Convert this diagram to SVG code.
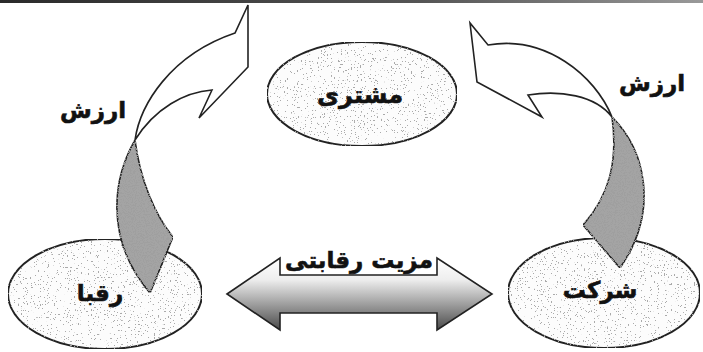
<svg xmlns="http://www.w3.org/2000/svg" width="703" height="352" viewBox="0 0 703 352">
<defs>
<linearGradient id="topbar" x1="0" y1="0" x2="1" y2="0">
<stop offset="0" stop-color="#2a2a2a"/><stop offset="0.6" stop-color="#555"/><stop offset="1" stop-color="#999"/>
</linearGradient>
<linearGradient id="dbl" gradientUnits="userSpaceOnUse" x1="0" y1="258" x2="0" y2="330">
<stop offset="0" stop-color="#ffffff"/><stop offset="0.3" stop-color="#eeeeee"/><stop offset="0.6" stop-color="#a8a8a8"/><stop offset="1" stop-color="#4a4a4a"/>
</linearGradient>
<filter id="speck" x="0" y="0" width="1" height="1">
<feTurbulence type="fractalNoise" baseFrequency="0.7" numOctaves="2" seed="5" result="n"/>
<feColorMatrix in="n" type="matrix" values="0 0 0 0 0.4  0 0 0 0 0.4  0 0 0 0 0.4  0 0 0 -40 13" result="d"/>
<feComposite in="d" in2="SourceGraphic" operator="in" result="dm"/>
<feMerge><feMergeNode in="SourceGraphic"/><feMergeNode in="dm"/></feMerge>
</filter>
<filter id="speck2" x="0" y="0" width="1" height="1">
<feTurbulence type="fractalNoise" baseFrequency="0.9" numOctaves="2" seed="8" result="n"/>
<feColorMatrix in="n" type="matrix" values="0 0 0 0 0.35  0 0 0 0 0.35  0 0 0 0 0.35  0 0 0 -12 6" result="d"/>
<feComposite in="d" in2="SourceGraphic" operator="in" result="dm"/>
<feMerge><feMergeNode in="SourceGraphic"/><feMergeNode in="dm"/></feMerge>
</filter>
</defs>
<style>
.node{fill:#fcfcfc;stroke:#222;stroke-width:2}
.lbl{font-family:"DejaVu Sans",sans-serif;font-weight:bold;fill:#111;stroke:#111;stroke-width:0.6;text-anchor:middle}
.light{fill:#fff;stroke:#222;stroke-width:1.6;stroke-linejoin:miter}
.dark{fill:#a4a4a4;stroke:#222;stroke-width:1.6}
</style>
<rect x="0" y="0" width="703" height="3" fill="url(#topbar)"/>
<g id="customer">
<ellipse class="node" cx="362" cy="94" rx="95" ry="52" filter="url(#speck)"/>
<text class="lbl" x="360" y="103" font-size="24">مشتری</text>
</g>
<g id="rivals">
<ellipse class="node" cx="105" cy="294" rx="97" ry="55" filter="url(#speck)"/>
</g>
<g id="company">
<ellipse class="node" cx="604" cy="293" rx="96" ry="55" filter="url(#speck)"/>
</g>
<g id="connectors">
<g id="value-left">
<path class="light" d="M135,140 C140,105 170,55 235,33 L248,5 L248,67 L199,118 L212,90 C185,92 155,108 135,140 Z"/>
<path class="dark" d="M135,140 C112,180 105,240 150,293 L173,237 C155,215 140,180 135,140 Z" filter="url(#speck2)"/>
<text class="lbl" x="93" y="118" font-size="23">ارزش</text>
</g>
<g id="value-right">
<path class="light" d="M612,117 C595,75 545,35 488,45 L470,23 L477,82 L542,117 L528,95 C560,90 595,95 612,117 Z"/>
<path class="dark" d="M612,117 C645,150 660,210 620,268 L583,225 C610,195 618,160 612,117 Z" filter="url(#speck2)"/>
<text class="lbl" x="652" y="91" font-size="23">ارزش</text>
</g>
<g id="advantage">
<path d="M227,294 L280,258 L280,275 L437,275 L437,258 L492,294 L437,330 L437,313 L280,313 L280,330 Z" fill="url(#dbl)" stroke="#222" stroke-width="1.6"/>
<text class="lbl" x="359" y="268" font-size="23">مزیت رقابتی</text>
</g>
</g>
<text class="lbl" x="100" y="301" font-size="23">رقبا</text>
<text class="lbl" x="600" y="298" font-size="23">شرکت</text>
</svg>
